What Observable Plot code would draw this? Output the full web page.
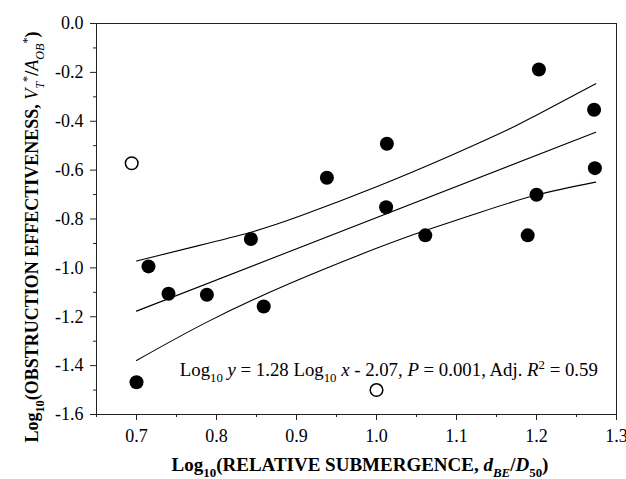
<!DOCTYPE html>
<html><head><meta charset="utf-8">
<script src="https://cdn.jsdelivr.net/npm/d3@7"></script>
<script src="https://cdn.jsdelivr.net/npm/@observablehq/plot@0.6"></script>
<style>body{margin:0;background:#fff} svg{display:block}</style>
</head><body><div id="chart"></div>
<script>
// Filled points (included in regression)
const filledX = [0.700, 0.715, 0.740, 0.788, 0.843, 0.859, 0.938, 1.013, 1.012, 1.061, 1.189, 1.200, 1.203, 1.272, 1.273];
const filledY = [-1.468, -0.994, -1.106, -1.110, -0.882, -1.158, -0.631, -0.492, -0.752, -0.867, -0.867, -0.701, -0.188, -0.353, -0.592];
// Open points (outliers)
const openX = [0.694, 1.000];
const openY = [-0.572, -1.500];
// Regression line
const fitX = [0.700, 1.274];
const fitY = [-1.177, -0.445];
// Upper confidence band
const upperX = [0.700, 0.770, 0.843, 0.906, 1.000, 1.093, 1.164, 1.201, 1.274];
const upperY = [-0.972, -0.915, -0.854, -0.786, -0.668, -0.540, -0.435, -0.373, -0.247];
// Lower confidence band
const lowerX = [0.700, 0.788, 0.893, 1.000, 1.061, 1.130, 1.200, 1.274];
const lowerY = [-1.379, -1.222, -1.062, -0.920, -0.847, -0.772, -0.702, -0.649];
// Ticks
const xTicks = [0.7, 0.8, 0.9, 1.0, 1.1, 1.2, 1.3];
const xMinor = [0.65, 0.75, 0.85, 0.95, 1.05, 1.15, 1.25];
const yTicks = [0.0, -0.2, -0.4, -0.6, -0.8, -1.0, -1.2, -1.4, -1.6];
const yMinor = [-0.1, -0.3, -0.5, -0.7, -0.9, -1.1, -1.3, -1.5];

const serif = "'Liberation Serif', 'Times New Roman', Times, serif";
const fmt = d => d.toFixed(1);

const chart = Plot.plot({
  width: 626, height: 479,
  marginLeft: 96, marginRight: 10, marginTop: 23, marginBottom: 65,
  style: {fontFamily: serif, fontSize: "18px", background: "#fff", color: "#000"},
  x: {domain: [0.65, 1.3]},
  y: {domain: [-1.6, 0]},
  marks: [
    Plot.frame({stroke: "#222", strokeWidth: 1}),
    Plot.axisX({ticks: xMinor, tickSize: 3, tickFormat: () => "", label: null, stroke: "#222"}),
    Plot.axisX({ticks: xTicks, tickSize: 6, tickPadding: 9, tickFormat: fmt, label: null, fontSize: 18, stroke: "#222"}),
    Plot.axisY({ticks: yMinor, tickSize: 3, tickFormat: () => "", label: null, stroke: "#222"}),
    Plot.axisY({ticks: yTicks, tickSize: 6, tickPadding: 7, tickFormat: fmt, label: null, fontSize: 18, stroke: "#222"}),
    Plot.line(upperX, {x: upperX, y: upperY, curve: "natural", stroke: "#000", strokeWidth: 1.1}),
    Plot.line(fitX, {x: fitX, y: fitY, stroke: "#000", strokeWidth: 1.1}),
    Plot.line(lowerX, {x: lowerX, y: lowerY, curve: "natural", stroke: "#000", strokeWidth: 1.1}),
    Plot.dot(filledX, {x: filledX, y: filledY, r: 7, fill: "#000", stroke: "none"}),
    Plot.dot(openX, {x: openX, y: openY, r: 6.3, fill: "#fff", stroke: "#000", strokeWidth: 1.5})
  ]
});
document.getElementById("chart").appendChild(chart);

const svg = d3.select(chart);
function rich(sel, parts, baseSize) {
  let shift = 0;
  for (const [txt, kind] of parts) {
    const t = sel.append("tspan").text(txt);
    let target = 0, size = baseSize;
    if (kind && kind.includes("sub")) { target = baseSize * 0.33; size = baseSize * 0.68; }
    if (kind && kind.includes("sup")) { target = -baseSize * 0.38; size = baseSize * 0.68; }
    t.attr("dy", target - shift).style("font-size", size + "px");
    shift = target;
    if (kind && kind.includes("i")) t.style("font-style", "italic");
    if (kind && kind.includes("n")) t.style("font-weight", "normal");
  }
}
const sx = chart.scale("x"), sy = chart.scale("y");

// Equation
const eq = svg.append("text")
  .attr("x", sx.apply(1.016)).attr("y", sy.apply(-1.445))
  .attr("text-anchor", "middle")
  .style("font-family", serif).style("white-space", "pre").attr("fill", "#000");
rich(eq, [["Log"], ["10", "sub"], [" "], ["y", "i"], [" = 1.28 Log"], ["10", "sub"], [" "], ["x", "i"],
  [" - 2.07, "], ["P", "i"], [" = 0.001, Adj. "], ["R", "i"], ["2", "sup"], [" = 0.59"]], 18.8);

// X label
const xl = svg.append("text")
  .attr("x", 360).attr("y", 471).attr("text-anchor", "middle")
  .style("font-family", serif).style("font-weight", "bold").style("white-space", "pre").attr("fill", "#000");
rich(xl, [["Log"], ["10", "sub"], ["(RELATIVE SUBMERGENCE, "], ["d", "i"], ["BE", "sub i"], ["/"], ["D", "i"], ["50", "sub"], [")"]], 19);

// Y label
const yl = svg.append("text")
  .attr("transform", "translate(38,237) rotate(-90)").attr("text-anchor", "middle")
  .style("font-family", serif).style("font-weight", "bold").style("white-space", "pre").attr("fill", "#000");
rich(yl, [["Log"], ["10", "sub"], ["(OBSTRUCTION EFFECTIVENESS, "], ["V", "i n"], ["T", "sub i n"], ["*", "sup n"], ["/"], ["A", "i n"], ["OB", "sub i n"], ["*", "sup n"], [")"]], 18);
</script>
</body></html>
